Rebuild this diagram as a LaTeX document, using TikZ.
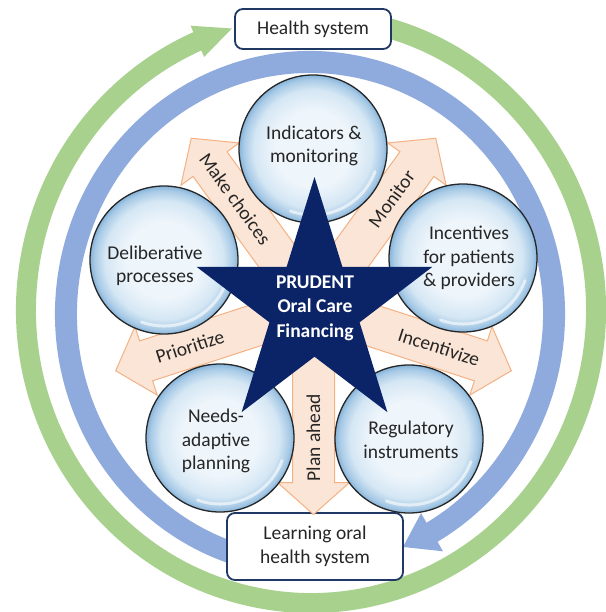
\documentclass[tikz,border=0pt]{standalone}
\usepackage{fontspec}
\setmainfont{Carlito}
\usetikzlibrary{calc}
\definecolor{ringgreen}{HTML}{A9D18E}
\definecolor{ringblue}{HTML}{8FAADC}
\definecolor{boxnavy}{HTML}{1F3864}
\definecolor{starnavy}{HTML}{0B2467}
\definecolor{peach}{HTML}{FBE5D6}
\definecolor{peachline}{HTML}{F4B183}
\definecolor{txt}{HTML}{262626}
\definecolor{bubA}{HTML}{EEF5FB}
\definecolor{bubB}{HTML}{D5E7F4}
\definecolor{bubC}{HTML}{A8CAE6}
\definecolor{bubD}{HTML}{86B4DA}
\pgfdeclareradialshading{bubble}{\pgfpoint{0bp}{0bp}}{color(0bp)=(bubA); color(13bp)=(bubA); color(20bp)=(bubB); color(23.5bp)=(bubC); color(25bp)=(bubD); color(50bp)=(bubD)}
\tikzset{
  sysbox/.style={draw=boxnavy, line width=1.8pt, rounded corners=8pt, fill=white, text=txt, align=center, inner sep=0pt},
  flowarrow/.style={fill=peach, draw=peachline, line width=1pt, line join=miter},
  bubblenode/.style={circle, minimum size=148pt, inner sep=0pt, draw=black!85, line width=1.3pt, shade, shading=bubble},
  bubbletext/.style={align=center, text=txt, inner sep=0pt},
  glint/.style={white, opacity=.6, line width=3pt, line cap=round},
  flowlabel/.style={text=txt, inner sep=0pt},
  corelabel/.style={text=white, align=center, inner sep=0pt, font=\fontsize{19.5}{24.5}\selectfont\bfseries}
}
\begin{document}
\begin{tikzpicture}[x=1pt,y=-1pt,font=\fontsize{19.5}{23.5}\selectfont]
\useasboundingbox (0,0) rectangle (605,612);
\fill[white] (0,0) rectangle (605,612);
\coordinate (C) at (313.5,306.5);

% outer green cycle
\begin{scope}[shift={(311,310)}]
\draw[ringgreen, line width=20pt] (-76:285 and 293) arc[start angle=-76, end angle=247.5, x radius=285, y radius=293];
\fill[ringgreen] (246.5:302 and 310) -- (253.9:285 and 293) -- (246.5:268 and 276) -- cycle;
\end{scope}

% inner blue cycle
\begin{scope}[shift={(310,314)}]
\draw[ringblue, line width=22pt] (104:244 and 252) arc[start angle=104, end angle=421, x radius=244, y radius=252];
\fill[ringblue] (420:266 and 274) -- (427.6:244 and 252) -- (420:222 and 230) -- cycle;
\end{scope}

% system boxes
\node[sysbox, minimum width=156pt, minimum height=40pt] (hs) at (313,29) {Health system};
\node[sysbox, minimum width=176pt, minimum height=67pt] (lohs) at (315,546.5) {Learning oral\\health system};

% block arrows
\foreach \a in {234,306,18,90,162}{
  \begin{scope}[shift={(313.5,306.5)}, rotate=-\a]
  \draw[flowarrow] (30,-21) -- (176,-21) -- (176,-36) -- (208,0) -- (176,36) -- (176,21) -- (30,21) -- cycle;
  \end{scope}
}

% bubbles
\node[bubblenode] (ind) at (313,149) {};
\node[bubblenode] (del) at (164,260) {};
\node[bubblenode] (inc) at (463,258) {};
\node[bubblenode] (need) at (220,438) {};
\node[bubblenode] (reg) at (409,439) {};
\foreach \n in {ind,del,inc,need,reg}{
  \draw[glint] ($(\n.center)+(20:66)$) arc[start angle=20, end angle=110, radius=66];
}

% arrow labels
\node[flowlabel, rotate=-54] (lmc) at ($(C)+(234:133)$) {Make choices};
\node[flowlabel, rotate=54] (lmo) at ($(C)+(306:133)$) {Monitor};
\node[flowlabel, rotate=-18] (lin) at ($(C)+(18:132)$) {Incentivize};
\node[flowlabel, rotate=90] (lpa) at ($(C)+(90:131)$) {Plan ahead};
\node[flowlabel, rotate=18] (lpr) at ($(C)+(162:130)$) {Prioritize};

% central star
\begin{scope}[shift={(314.5,307)}]
\fill[starnavy] (270:124 and 130) -- (306:47.4 and 49.7) -- (342:124 and 130) -- (18:47.4 and 49.7) -- (54:124 and 130) -- (90:47.4 and 49.7) -- (126:124 and 130) -- (162:47.4 and 49.7) -- (198:124 and 130) -- (234:47.4 and 49.7) -- cycle;
\end{scope}
\node[corelabel] (core) at (315,308) {PRUDENT\\Oral Care\\Financing};

% bubble texts
\node[bubbletext] (tind) at (314,146) {Indicators \&\\monitoring};
\node[bubbletext] (tdel) at (155,266) {Deliberative\\processes};
\node[bubbletext] (tinc) at (469,258) {Incentives\\for patients\\\& providers};
\node[bubbletext] (tneed) at (216,441) {Needs-\\adaptive\\planning};
\node[bubbletext] (treg) at (411,440) {Regulatory\\instruments};
\end{tikzpicture}
\end{document}
